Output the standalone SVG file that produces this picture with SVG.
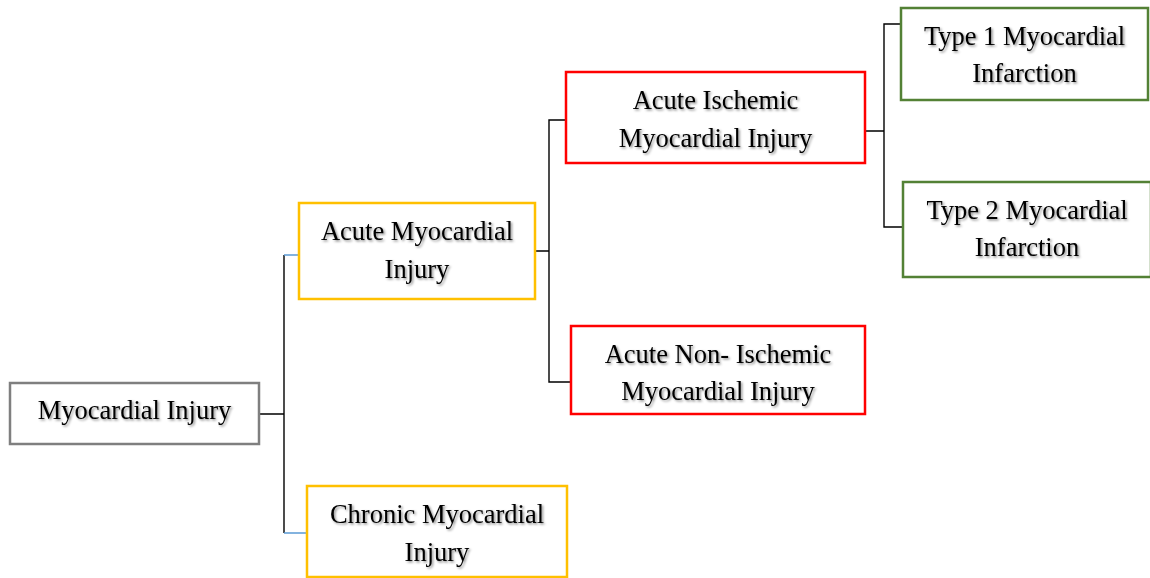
<svg xmlns="http://www.w3.org/2000/svg" width="1150" height="578" viewBox="0 0 1150 578">
<defs>
<filter id="sh" x="-10%" y="-30%" width="120%" height="160%">
<feDropShadow dx="1.5" dy="1.5" stdDeviation="1" flood-color="#000" flood-opacity="0.45"/>
</filter>
</defs>
<style>
.box{fill:#fff;stroke-width:2.5}
.grey{stroke:#7f7f7f}
.yellow{stroke:#ffc000}
.red{stroke:#ff0000}
.green{stroke:#538135}
text{font-family:"Liberation Serif","Times New Roman",serif;font-size:26.5px;fill:#000;text-anchor:middle;filter:url(#sh)}
.ln{fill:none;stroke:#000;stroke-width:1.4}
.bl{fill:none;stroke:#5b9bd5;stroke-width:1.4}
</style>
<g id="connectors">
<path class="ln" d="M259,414 H284 M284,255 V533"/>
<path class="bl" d="M284,255 H299 M284,533 H307"/>
<path class="ln" d="M535,251 H549 M566,120 H549 V382 H571"/>
<path class="ln" d="M865,131 H884 M901,24 H884 V227 H903"/>
</g>
<g id="n_myocardial_injury">
<rect class="box grey" x="10" y="383" width="249" height="61"/>
<text x="134.5" y="419">Myocardial Injury</text>
</g>
<g id="n_acute_mi">
<rect class="box yellow" x="299" y="203" width="236" height="96"/>
<text x="417" y="240">Acute Myocardial</text>
<text x="417" y="278">Injury</text>
</g>
<g id="n_chronic_mi">
<rect class="box yellow" x="307" y="486" width="260" height="91"/>
<text x="437" y="523">Chronic Myocardial</text>
<text x="437" y="561">Injury</text>
</g>
<g id="n_acute_ischemic">
<rect class="box red" x="566" y="72" width="299" height="91"/>
<text x="715.5" y="109">Acute Ischemic</text>
<text x="715.5" y="147">Myocardial Injury</text>
</g>
<g id="n_acute_non_ischemic">
<rect class="box red" x="571" y="326" width="294" height="88"/>
<text x="718" y="363">Acute Non- Ischemic</text>
<text x="718" y="400">Myocardial Injury</text>
</g>
<g id="n_type1">
<rect class="box green" x="901" y="8" width="247" height="92"/>
<text x="1024.5" y="45">Type 1 Myocardial</text>
<text x="1024.5" y="82">Infarction</text>
</g>
<g id="n_type2">
<rect class="box green" x="903" y="182" width="248" height="95"/>
<text x="1027" y="219">Type 2 Myocardial</text>
<text x="1027" y="256">Infarction</text>
</g>
</svg>
